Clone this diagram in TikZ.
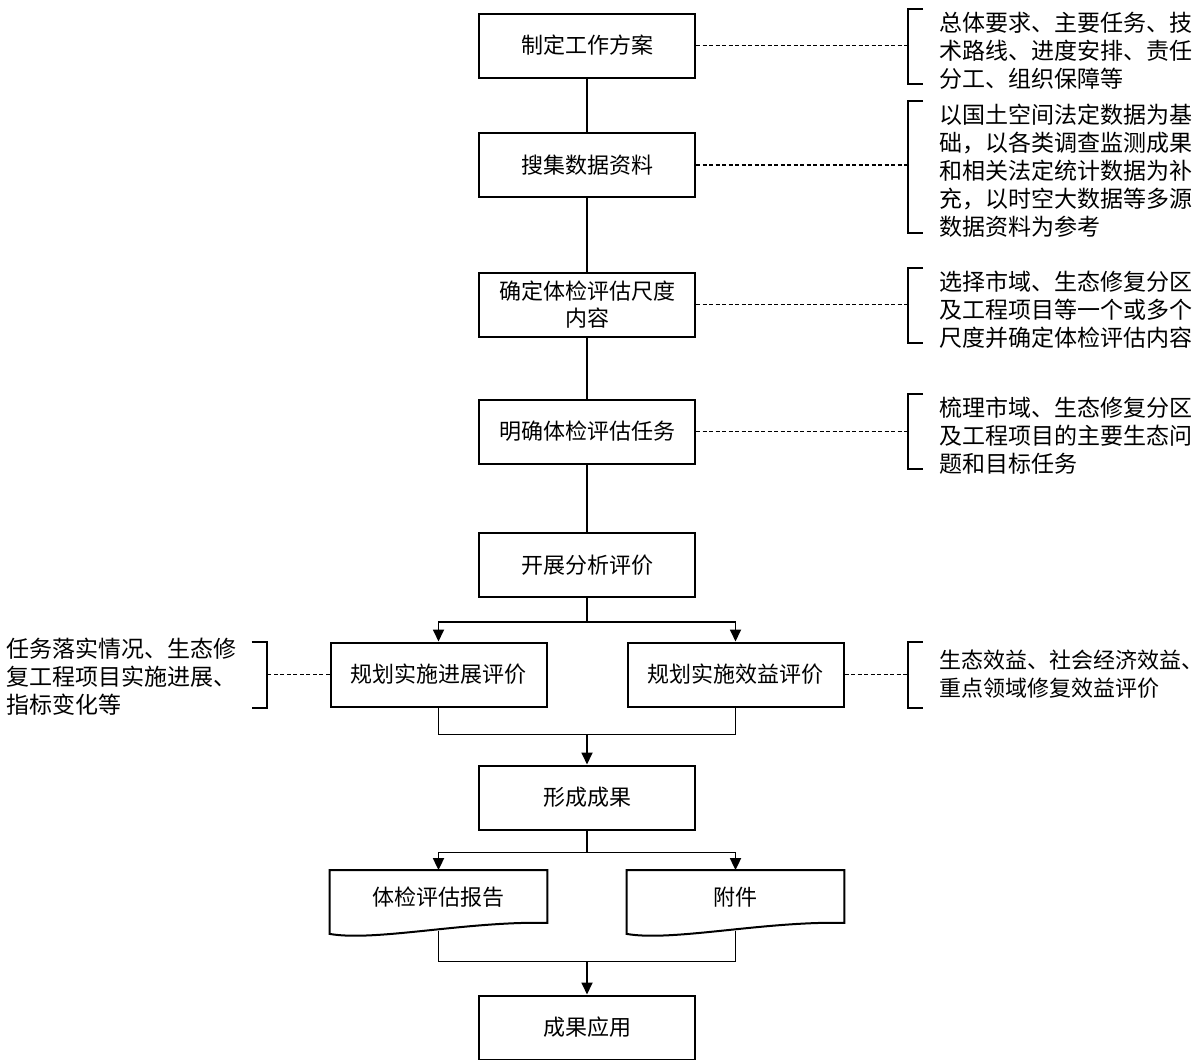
\documentclass[tikz,border=0pt]{standalone}
\usepackage{fontspec}
\setmainfont{Noto Sans CJK SC}
\usetikzlibrary{arrows.meta,positioning}

\begin{document}
\begin{tikzpicture}[line width=1.8pt,node distance=3cm,
  main node/.style={rectangle,draw,line width=2pt,minimum width=216pt,minimum height=64pt,align=center,font=\fontsize{22pt}{27pt}\selectfont},
  doc node/.style={rectangle,minimum width=216pt,minimum height=52pt,font=\fontsize{22pt}{27pt}\selectfont},
  note/.style={align=left,inner sep=0pt,font=\fontsize{23pt}{28pt}\selectfont},
  link/.style={line width=1.5pt,dash pattern=on 4pt off 2.5pt},
  bracket/.style={line width=2pt},
  arrow/.style={-{Triangle[length=12pt,width=11pt]}}]

  \useasboundingbox (0,0) rectangle (1203pt,-1060pt);

  \node[main node] (1) at (587pt,-45.5pt) {制定工作方案};
  \node[main node] (2) [node distance=119.5pt,below of=1] {搜集数据资料};
  \node[main node] (3) [node distance=139.5pt,below of=2] {确定体检评估尺度\\内容};
  \node[main node] (4) [node distance=127pt,below of=3] {明确体检评估任务};
  \node[main node] (5) [node distance=133.5pt,below of=4] {开展分析评价};

  \node[main node] (6) [node distance=109.5pt,below of=5,xshift=-148.5pt] {规划实施进展评价};
  \node[main node] (7) [node distance=109.5pt,below of=5,xshift=148.5pt] {规划实施效益评价};
  \node[main node] (8) [node distance=232.5pt,below of=5] {形成成果};

  \node[doc node] (9) [node distance=99.5pt,below of=8,xshift=-148.5pt] {体检评估报告};
  \node[doc node] (10) [node distance=99.5pt,below of=8,xshift=148.5pt] {附件};
  \node[main node] (11) [node distance=230pt,below of=8] {成果应用};

  % wavy bottom of the two documents
  \foreach \d in {9,10}
    \draw[line width=2pt] (\d.north west) -- (\d.north east) -- ([yshift=1pt]\d.south east)
      .. controls ([xshift=-80pt,yshift=3pt]\d.south east) and ([xshift=45pt,yshift=-18pt]\d.south west)
      .. ([yshift=-10pt]\d.south west) -- cycle;

  % notes
  \node[note,right=243pt of 1,yshift=-5pt] (n1) {总体要求、主要任务、技\\术路线、进度安排、责任\\分工、组织保障等};
  \node[note,right=243pt of 2,yshift=-6pt] (n2) {以国土空间法定数据为基\\础，以各类调查监测成果\\和相关法定统计数据为补\\充，以时空大数据等多源\\数据资料为参考};
  \node[note,right=243pt of 3,yshift=-5pt] (n3) {选择市域、生态修复分区\\及工程项目等一个或多个\\尺度并确定体检评估内容};
  \node[note,right=243pt of 4,yshift=-4pt] (n4) {梳理市域、生态修复分区\\及工程项目的主要生态问\\题和目标任务};
  \node[note,right=94pt of 7,font=\fontsize{22pt}{28pt}\selectfont] (n7) {生态效益、社会经济效益、\\重点领域修复效益评价};
  \node[note,left=92pt of 6,yshift=-2.5pt] (n6) {任务落实情况、生态修\\复工程项目实施进展、\\指标变化等};

  \foreach \i in {1,...,4} {
    \coordinate (b\i) at ([xshift=-31pt]n\i.west);
    \draw[bracket] ([xshift=-16pt,yshift=2pt]n\i.north west) -- ++(-15pt,0) |- ([xshift=-16pt,yshift=6pt]n\i.south west);
    \draw[link] (\i.east) -- (\i -| b\i);
  }
  \coordinate (b7) at ([xshift=63pt]7.east);
  \draw[bracket] ([xshift=78pt]7.north east) -- ++(-15pt,0) |- ([xshift=78pt]7.south east);
  \draw[link] (7.east) -- (b7);
  \coordinate (b6) at ([xshift=-63pt]6.west);
  \draw[bracket] ([xshift=-78pt]6.north west) -- ++(15pt,0) |- ([xshift=-78pt]6.south west);
  \draw[link] (6.west) -- (b6);

  % flow
  \coordinate (j1) at ([yshift=-24pt]5.south);
  \coordinate (j2) at ([yshift=30pt]8.north);
  \coordinate (j3) at ([yshift=-22pt]8.south);
  \coordinate (j4) at ([yshift=33pt]11.north);

  \draw (1) -- (2) (2) -- (3) (3) -- (4) (4) -- (5) (5) -- (j1);
  \draw[arrow] (j1) -| (6.north);
  \draw[arrow] (j1) -| (7.north);
  \draw (6) |- (j2) -| (7);
  \draw[arrow] (j2) -- (8);
  \draw (8) -- (j3);
  \draw[arrow] (j3) -| (9.north);
  \draw[arrow] (j3) -| (10.north);
  \draw ([yshift=-7pt]9.south) |- (j4) -| ([yshift=-7pt]10.south);
  \draw[arrow] (j4) -- (11);
\end{tikzpicture}
\end{document}
